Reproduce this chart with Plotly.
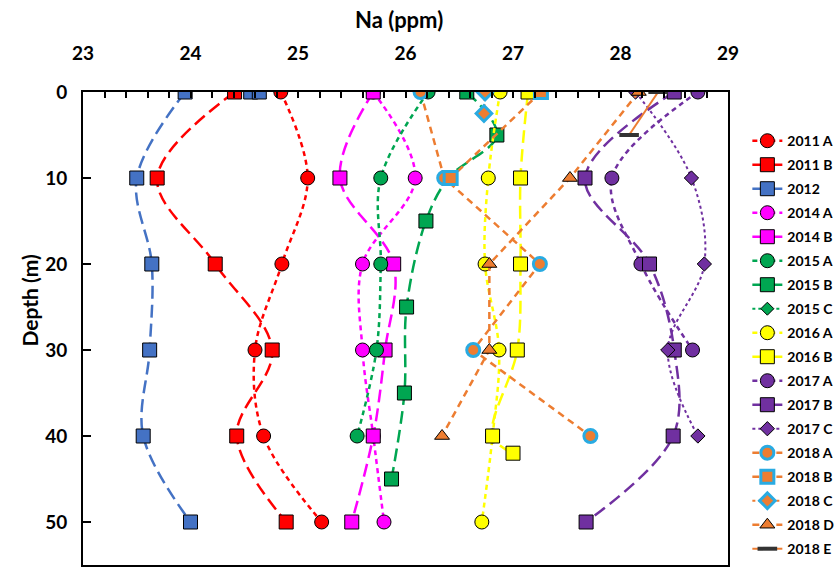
import plotly.graph_objects as go

# ---------------- data (Na in ppm, depth in m) ----------------
depth_std = [0, 10, 20, 30, 40, 50]
na_2011A = [24.84, 25.09, 24.85, 24.60, 24.68, 25.22]
na_2011B = [24.41, 23.69, 24.23, 24.76, 24.43, 24.89]
na_2012 = [23.95, 23.50, 23.64, 23.62, 23.56, 24.00]
depth_2012_extra = [0, 0]
na_2012_extra = [24.56, 24.64]
na_2014A = [25.70, 26.09, 25.60, 25.60, 25.70, 25.80]
na_2014B = [25.70, 25.39, 25.89, 25.81, 25.70, 25.50]
depth_2015A = [0, 10, 20, 30, 40]
na_2015A = [26.21, 25.77, 25.77, 25.73, 25.55]
depth_2015B = [0, 5, 10, 15, 25, 35, 45]
na_2015B = [26.57, 26.85, 26.40, 26.19, 26.01, 25.99, 25.87]
depth_2015C = [0]
na_2015C = [26.21]
na_2016A = [26.88, 26.77, 26.74, 26.87, 26.81, 26.71]
depth_2016B = [0, 10, 20, 30, 40, 42]
na_2016B = [27.14, 27.07, 27.07, 27.04, 26.81, 27.00]
depth_2017A = [0, 10, 20, 30]
na_2017A = [28.72, 27.92, 28.19, 28.67]
na_2017B = [28.50, 27.67, 28.27, 28.50, 28.49, 27.68]
depth_2017C = [0, 10, 20, 30, 40]
na_2017C = [28.14, 28.66, 28.78, 28.44, 28.72]
depth_2018A = [0, 10, 20, 30, 40]
na_2018A = [26.14, 26.36, 27.25, 26.63, 27.72]
depth_2018B = [0, 10]
na_2018B = [27.26, 26.42]
depth_2018C = [0, 2.5]
na_2018C = [26.74, 26.73]
depth_2018D = [0, 10, 20, 30, 40]
na_2018D = [28.17, 27.53, 26.78, 26.78, 26.34]
depth_2018E = [0, 5]
na_2018E = [28.35, 28.08]

x_ticks = [23, 24, 25, 26, 27, 28, 29]
y_ticks = [0, 10, 20, 30, 40, 50]

# ---------------- styles ----------------
RED = "#FF0000"
BLUE = "#4472C4"
MAG = "#FF00FF"
GREEN = "#00A651"
YEL = "#FFFF00"
PUR = "#7030A0"
ORA = "#ED7D31"
SKY = "#29ABE2"
SHORT = "5px,4px"
LONG = "13px,6px"

fig = go.Figure()


def add(name, x, y, color, dash, symbol, mcolor, size=14, lcolor="#000000", lwidth=1,
        shape="spline", width=2.5, showlegend=True, group=None):
    fig.add_trace(go.Scatter(
        x=x, y=y, name=name, mode="lines+markers",
        line=dict(color=color, dash=dash, width=width, shape=shape, smoothing=1.0),
        marker=dict(symbol=symbol, size=size, color=mcolor,
                    line=dict(color=lcolor, width=lwidth)),
        showlegend=showlegend, legendgroup=group or name,
    ))


add("2011 A", na_2011A, depth_std, RED, SHORT, "circle", RED)
add("2011 B", na_2011B, depth_std, RED, LONG, "square", RED)
add("2012", na_2012, depth_std, BLUE, LONG, "square", BLUE)
add("2012 extra", na_2012_extra, depth_2012_extra, BLUE, LONG, "square", BLUE,
    showlegend=False, group="2012")
add("2014 A", na_2014A, depth_std, MAG, SHORT, "circle", MAG)
add("2014 B", na_2014B, depth_std, MAG, LONG, "square", MAG)
add("2015 C", na_2015C, depth_2015C, GREEN, "dot", "diamond", GREEN, size=10, width=2)
add("2015 A", na_2015A, depth_2015A, GREEN, SHORT, "circle", GREEN)
add("2015 B", na_2015B, depth_2015B, GREEN, LONG, "square", GREEN)
add("2016 A", na_2016A, depth_std, YEL, SHORT, "circle", YEL)
add("2016 B", na_2016B, depth_2016B, YEL, LONG, "square", YEL)
add("2017 A", na_2017A, depth_2017A, PUR, SHORT, "circle", PUR)
add("2017 B", na_2017B, depth_std, PUR, LONG, "square", PUR)
add("2017 C", na_2017C, depth_2017C, PUR, "dot", "diamond", PUR, size=11, width=2)
add("2018 A", na_2018A, depth_2018A, ORA, "7px,5px", "circle", ORA, size=13,
    lcolor=SKY, lwidth=3, shape="linear")
add("2018 B", na_2018B, depth_2018B, ORA, "7px,5px", "square", ORA, size=13,
    lcolor=SKY, lwidth=3, shape="linear")
add("2018 C", na_2018C, depth_2018C, ORA, "dot", "diamond", ORA, size=12,
    lcolor=SKY, lwidth=3, shape="linear", width=2)
add("2018 D", na_2018D, depth_2018D, ORA, "7px,5px", "triangle-up", ORA, size=13,
    shape="linear")
add("2018 E", na_2018E, depth_2018E, ORA, "solid", "line-ew", "#333333", size=14,
    lcolor="#333333", lwidth=4, shape="linear", width=2)

# legend order: 2015 C comes after 2015 B
order = ["2011 A", "2011 B", "2012", "2014 A", "2014 B", "2015 A", "2015 B", "2015 C",
         "2016 A", "2016 B", "2017 A", "2017 B", "2017 C", "2018 A", "2018 B", "2018 C",
         "2018 D", "2018 E"]
for tr in fig.data:
    if tr.name in order:
        tr.legendrank = order.index(tr.name) + 1

FONT = "Lato"

fig.update_layout(
    width=837, height=569,
    margin=dict(l=83, r=109, t=92, b=4, autoexpand=False),
    paper_bgcolor="white", plot_bgcolor="white",
    font=dict(family=FONT, color="#000000"),
    showlegend=True,
    legend=dict(x=1.03, y=0.93, xanchor="left", yanchor="top",
                font=dict(family=FONT, size=14, weight="bold"),
                tracegroupgap=2.8, itemwidth=30, bgcolor="rgba(0,0,0,0)",
                traceorder="grouped", maxheight=560),
    xaxis=dict(side="top", range=[23, 29], tickvals=x_ticks,
               ticks="inside", ticklen=6, tickwidth=1.5, tickcolor="#000",
               minor=dict(dtick=0.2, ticks="inside", ticklen=6, tickwidth=1.5, tickcolor="#000"),
               showgrid=False, zeroline=False,
               showline=True, linecolor="#000", linewidth=2, mirror=True,
               tickfont=dict(family=FONT, size=19, weight="bold"),
               ticklabelstandoff=22),
    yaxis=dict(range=[55, 0], tickvals=y_ticks,
               ticks="inside", ticklen=8, tickwidth=1.5, tickcolor="#000",
               showgrid=False, zeroline=False,
               showline=True, linecolor="#000", linewidth=2, mirror=True,
               tickfont=dict(family=FONT, size=19, weight="bold"),
               ticklabelstandoff=10),
    annotations=[
        dict(text="Na (ppm)", xref="paper", yref="paper", x=0.49, y=1.153,
             xanchor="center", yanchor="middle", showarrow=False,
             font=dict(family=FONT, size=22, weight="bold")),
        dict(text="Depth (m)", xref="paper", yref="paper", x=-0.083, y=0.56,
             xanchor="center", yanchor="middle", showarrow=False, textangle=-90,
             font=dict(family=FONT, size=21, weight="bold")),
    ],
)

fig.write_html("out.html")
